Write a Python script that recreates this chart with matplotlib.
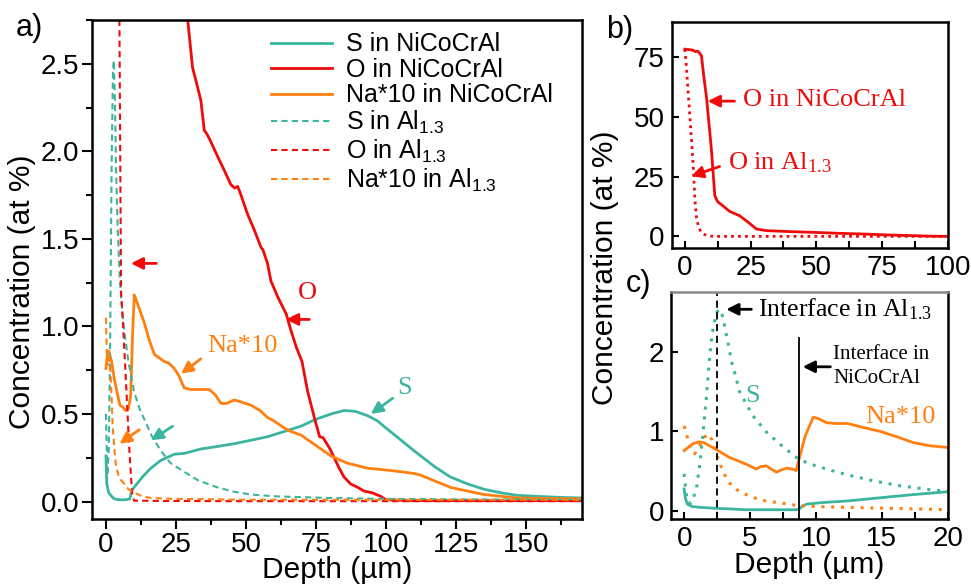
import matplotlib
matplotlib.use("Agg")
import matplotlib.pyplot as plt
from matplotlib.ticker import MultipleLocator, FormatStrFormatter

plt.rcParams['font.family'] = ['Liberation Sans', 'DejaVu Sans']
plt.rcParams['mathtext.default'] = 'regular'

TEAL = '#3BB59F'
RED = '#F00A0A'
ORANGE = '#FF8010'
SERIF = ['Liberation Serif', 'DejaVu Serif']

# ---------------- panel a data ----------------
s_ni_a_x = [0, 0.3, 1, 2, 3, 5, 7, 8.5, 9.2, 10, 13, 16, 19.6, 24.4, 28, 33.9, 40, 45.8, 51.8, 57.7,
            63.7, 69.6, 75, 80.4, 85, 89, 93.5, 97, 100, 105.4, 110, 117.3, 123, 129.2, 135, 141,
            147, 153, 160, 170]
s_ni_a_y = [0.26, 0.10, 0.05, 0.03, 0.015, 0.01, 0.01, 0.015, 0.06, 0.08, 0.14, 0.19, 0.235, 0.27,
            0.275, 0.30, 0.315, 0.33, 0.35, 0.37, 0.40, 0.43, 0.47, 0.50, 0.52, 0.515, 0.49, 0.46,
            0.42, 0.35, 0.29, 0.20, 0.14, 0.10, 0.07, 0.05, 0.035, 0.03, 0.025, 0.02]

o_ni_a_x = [25, 29.2, 30.9, 32.5, 33.9, 35.1, 36, 37, 39.9, 42, 44.6, 46, 47, 48, 50.6, 53, 55.4,
            56, 57.7, 58.9, 61.3, 64.4, 66, 68, 70, 72, 74.4, 76.3, 77.5, 78.5, 80, 81.5, 83, 85,
            87.4, 90, 92.1, 95, 98.1, 100, 110, 130, 150, 170]
o_ni_a_y = [3.5, 2.75, 2.48, 2.38, 2.29, 2.12, 2.10, 2.07, 1.97, 1.90, 1.81, 1.79, 1.80, 1.76,
            1.64, 1.55, 1.45, 1.44, 1.36, 1.26, 1.17, 1.07, 0.98, 0.88, 0.80, 0.63, 0.48, 0.37,
            0.365, 0.34, 0.30, 0.25, 0.20, 0.14, 0.10, 0.08, 0.06, 0.05, 0.03, 0.01, 0.005, 0.005,
            0.005, 0.005]

na_ni_a_x = [0, 0.5, 1, 2, 3, 4, 5, 6, 7, 8, 8.8, 9.5, 10.1, 11.5, 13.7, 15.5, 17.3, 20.8, 22.5,
             24.4, 26, 27.9, 30, 33.9, 36.9, 39, 41.1, 43, 45.8, 48, 51.8, 55, 57.7, 60, 63.7, 66,
             69.6, 75, 80.4, 86, 93.5, 100, 105.4, 110, 112.5, 117, 123.2, 129, 135, 141, 147,
             155, 170]
na_ni_a_y = [0.76, 0.84, 0.86, 0.80, 0.70, 0.62, 0.55, 0.54, 0.52, 0.53, 0.60, 0.95, 1.18, 1.12,
             1.02, 0.92, 0.84, 0.80, 0.79, 0.76, 0.72, 0.65, 0.64, 0.64, 0.64, 0.61, 0.56, 0.56,
             0.58, 0.57, 0.55, 0.52, 0.48, 0.46, 0.42, 0.40, 0.38, 0.32, 0.26, 0.22, 0.19, 0.18,
             0.17, 0.16, 0.15, 0.12, 0.08, 0.06, 0.04, 0.03, 0.02, 0.018, 0.015]

s_al_a_x = [0, 0.5, 1, 1.5, 2, 2.5, 2.8, 3.2, 3.6, 4.2, 5, 6, 7, 8, 9, 10, 12, 14.8, 16.5, 19.6,
            23, 27.9, 33, 39.9, 46, 51.8, 60, 70, 80, 100, 130, 170]
s_al_a_y = [0.5, 0.15, 0.3, 0.9, 1.9, 2.45, 2.52, 2.3, 1.9, 1.55, 1.25, 1.05, 0.92, 0.8, 0.72,
            0.63, 0.53, 0.43, 0.37, 0.29, 0.22, 0.17, 0.12, 0.08, 0.055, 0.04, 0.03, 0.025, 0.02,
            0.015, 0.012, 0.01]

o_al_a_x = [3.8, 4.8, 5.4, 5.9, 7.1, 8.3, 9.3, 10, 20, 50, 100, 170]
o_al_a_y = [15, 2.75, 1.19, 1.07, 0.70, 0.31, 0.05, 0.005, 0.003, 0.002, 0.002, 0.002]

na_al_a_x = [0, 0.3, 0.6, 1, 1.5, 2, 2.4, 3, 3.6, 4.5, 5.5, 6.6, 8, 10.1, 13, 16, 25, 50, 100, 170]
na_al_a_y = [1.05, 0.85, 0.78, 0.85, 0.78, 0.60, 0.43, 0.30, 0.20, 0.15, 0.12, 0.10, 0.07, 0.05,
             0.03, 0.02, 0.015, 0.01, 0.01, 0.01]

# ---------------- panel b data ----------------
o_ni_b_x = [0, 1.5, 3, 4, 5, 6.3, 7.2, 8.2, 9.2, 10.1, 11.4, 12.5, 14.6, 17, 20.9, 24, 27.2, 31,
            40, 48.8, 58, 67.8, 77, 86.8, 93, 100]
o_ni_b_y = [78.5, 78.3, 78.1, 77.5, 77.6, 75.8, 67, 58.5, 47, 36.3, 17, 14.5, 12.7, 10.5, 8.6, 6,
            3.1, 2.4, 2.0, 1.7, 1.3, 1.0, 0.6, 0.3, 0.1, 0.0]
o_al_b_x = [0, 0.6, 1.2, 1.9, 2.6, 3.2, 3.8, 4.4, 5.1, 6, 7, 8.5, 10.8, 30, 60, 100]
o_al_b_y = [78.5, 70.9, 61, 50.1, 39, 29.4, 15.5, 8, 4.4, 2, 1, 0.3, 0.0, 0.0, 0.0, 0.0]

# ---------------- panel c data ----------------
s_ni_c_x = [0, 0.1, 0.25, 0.6, 1.2, 2.2, 3.5, 4.7, 6, 7.5, 8.5, 8.75, 9.0, 9.3, 10.5, 12.4, 14.9,
            17.4, 20]
s_ni_c_y = [0.28, 0.16, 0.09, 0.06, 0.05, 0.04, 0.03, 0.02, 0.02, 0.02, 0.02, 0.03, 0.07, 0.09,
            0.11, 0.13, 0.17, 0.21, 0.245]
na_ni_c_x = [0, 0.3, 0.7, 1.15, 1.5, 2.16, 3.44, 4.71, 5.47, 5.8, 6.24, 6.6, 7.0, 7.4, 7.76, 8.2,
             8.5, 8.7, 9.2, 9.8, 10.2, 10.8, 11.5, 12.4, 13.6, 14.9, 16.2, 17.4, 18.7, 20]
na_ni_c_y = [0.76, 0.80, 0.85, 0.87, 0.86, 0.80, 0.675, 0.59, 0.53, 0.56, 0.57, 0.53, 0.49, 0.52,
             0.54, 0.53, 0.51, 0.64, 0.95, 1.18, 1.16, 1.11, 1.10, 1.10, 1.05, 1.00, 0.93, 0.86,
             0.82, 0.80]
s_al_c_x = [0, 0.1, 0.25, 0.5, 0.9, 1.2, 1.4, 1.7, 1.9, 2.1, 2.3, 2.5, 2.7, 2.9, 3.1, 3.4, 3.6,
            3.9, 4.2, 5.2, 6.2, 7.2, 8.7, 9.8, 10.8, 12.3, 14.4, 16.4, 18.7, 20]
s_al_c_y = [0.47, 0.30, 0.12, 0.10, 0.25, 0.60, 0.92, 1.45, 1.87, 2.20, 2.37, 2.50, 2.53, 2.45,
            2.30, 2.05, 1.87, 1.70, 1.50, 1.20, 1.00, 0.85, 0.65, 0.58, 0.53, 0.46, 0.38, 0.32,
            0.27, 0.25]
na_al_c_x = [0, 0.2, 0.5, 0.8, 1.1, 1.5, 1.8, 2.1, 2.4, 2.7, 3.1, 3.4, 4.0, 4.7, 5.5, 6.2, 7.5,
             8.7, 10, 12.4, 15, 17.5, 20]
na_al_c_y = [1.07, 0.95, 0.80, 0.72, 0.80, 0.92, 0.97, 0.90, 0.75, 0.60, 0.45, 0.36, 0.27, 0.21,
             0.16, 0.13, 0.10, 0.07, 0.06, 0.05, 0.04, 0.03, 0.02]
interface_al = 2.5
interface_ni = 8.75

TICK_FS = 20
LABEL_FS = 21.5
ANN_FS = 19

fig = plt.figure(figsize=(9.71, 5.87), dpi=100)
ax_a = fig.add_axes([0.0947, 0.1158, 0.5047, 0.8501])
ax_b = fig.add_axes([0.6918, 0.577, 0.2842, 0.386])
ax_c = fig.add_axes([0.6910, 0.1153, 0.2850, 0.3877])

LW = 2.0
# ---- panel a ----
ax_a.plot(s_ni_a_x, s_ni_a_y, color=TEAL, lw=LW, label='S in NiCoCrAl')
ax_a.plot(o_ni_a_x, o_ni_a_y, color=RED, lw=LW, label='O in NiCoCrAl')
ax_a.plot(na_ni_a_x, na_ni_a_y, color=ORANGE, lw=LW, label='Na*10 in NiCoCrAl')
ax_a.plot(s_al_a_x, s_al_a_y, color=TEAL, lw=1.5, ls=(0, (3, 2)), label='S in Al$_{1.3}$')
ax_a.plot(o_al_a_x, o_al_a_y, color=RED, lw=1.5, ls=(0, (3, 2)), label='O in Al$_{1.3}$')
ax_a.plot(na_al_a_x, na_al_a_y, color=ORANGE, lw=1.5, ls=(0, (3, 2)), label='Na*10 in Al$_{1.3}$')
ax_a.set_xlim(-5, 170)
ax_a.set_ylim(-0.1, 2.75)
ax_a.xaxis.set_major_locator(MultipleLocator(25))
ax_a.xaxis.set_minor_locator(MultipleLocator(12.5))
ax_a.yaxis.set_major_locator(MultipleLocator(0.5))
ax_a.yaxis.set_minor_locator(MultipleLocator(0.25))
ax_a.yaxis.set_major_formatter(FormatStrFormatter('%.1f'))
ax_a.tick_params(which='both', direction='out', width=1.5, labelsize=TICK_FS)
ax_a.tick_params(which='major', length=7, pad=2)
ax_a.tick_params(which='minor', length=4)
ax_a.set_xlabel('Depth (µm)', fontsize=LABEL_FS, labelpad=-1)
ax_a.set_ylabel('Concentration (at %)', fontsize=LABEL_FS)
ax_a.yaxis.set_label_coords(-0.115, 0.455)
leg = ax_a.legend(loc='upper left', bbox_to_anchor=(0.365, 0.975), frameon=False, fontsize=18,
                  handlelength=2.45, handletextpad=0.55, labelspacing=0.06, borderpad=0,
                  borderaxespad=0)

arrow_kw = dict(arrowstyle='-|>,head_length=0.7,head_width=0.35', lw=2, shrinkA=0, shrinkB=0)
ax_a.annotate('', xy=(8.9, 1.36), xytext=(18, 1.36), arrowprops=dict(color=RED, **arrow_kw))
ax_a.annotate('', xy=(64.3, 1.04), xytext=(72.6, 1.04), arrowprops=dict(color=RED, **arrow_kw))
ax_a.text(72, 1.19, 'O', color=RED, family=SERIF, fontsize=ANN_FS, ha='center', va='center')
ax_a.annotate('', xy=(26.8, 0.73), xytext=(33.9, 0.815), arrowprops=dict(color=ORANGE, **arrow_kw))
ax_a.text(48.8, 0.89, 'Na*10', color=ORANGE, family=SERIF, fontsize=ANN_FS, ha='center',
          va='center')
ax_a.annotate('', xy=(4.8, 0.33), xytext=(11.9, 0.41), arrowprops=dict(color=ORANGE, **arrow_kw))
ax_a.annotate('', xy=(16.1, 0.35), xytext=(23.8, 0.43), arrowprops=dict(color=TEAL, **arrow_kw))
ax_a.annotate('', xy=(94.6, 0.50), xytext=(102.4, 0.59), arrowprops=dict(color=TEAL, **arrow_kw))
ax_a.text(106.5, 0.65, 'S', color=TEAL, family=SERIF, fontsize=ANN_FS, ha='center', va='center')

# ---- panel b ----
ax_b.plot(o_ni_b_x, o_ni_b_y, color=RED, lw=LW)
ax_b.plot(o_al_b_x, o_al_b_y, color=RED, lw=2.0, ls=(0, (1, 1.5)))
ax_b.set_xlim(-5, 100)
ax_b.set_ylim(-5, 90)
ax_b.xaxis.set_major_locator(MultipleLocator(25))
ax_b.xaxis.set_minor_locator(MultipleLocator(12.5))
ax_b.yaxis.set_major_locator(MultipleLocator(25))
ax_b.tick_params(which='both', direction='in', width=1.5, labelsize=TICK_FS, length=5, pad=5)
ax_b.annotate('', xy=(8.7, 56.7), xytext=(18.9, 56.7), arrowprops=dict(color=RED, **arrow_kw))
ax_b.text(22, 57, 'O in NiCoCrAl', color=RED, family=SERIF, fontsize=ANN_FS, ha='left',
          va='center')
ax_b.annotate('', xy=(2.4, 25.2), xytext=(13.2, 29.3), arrowprops=dict(color=RED, **arrow_kw))
ax_b.text(16.4, 30.7, 'O in Al$_{1.3}$', color=RED, family=SERIF, fontsize=ANN_FS, ha='left',
          va='center')

# ---- panel c ----
ax_c.plot(s_ni_c_x, s_ni_c_y, color=TEAL, lw=LW)
ax_c.plot(na_ni_c_x, na_ni_c_y, color=ORANGE, lw=LW)
ax_c.plot(s_al_c_x, s_al_c_y, color=TEAL, lw=2.2, ls=(0, (1, 2.2)))
ax_c.plot(na_al_c_x, na_al_c_y, color=ORANGE, lw=2.2, ls=(0, (1, 2.2)))
ax_c.axvline(interface_al, color='black', lw=1.3, ls=(0, (4, 2.5)))
ax_c.plot([interface_ni, interface_ni], [-0.1, 2.17], color='black', lw=1.3)
ax_c.set_xlim(-1, 20)
ax_c.set_ylim(-0.1, 2.75)
ax_c.xaxis.set_major_locator(MultipleLocator(5))
ax_c.xaxis.set_minor_locator(MultipleLocator(2.5))
ax_c.yaxis.set_major_locator(MultipleLocator(1))
ax_c.tick_params(which='both', direction='in', width=1.5, labelsize=TICK_FS, length=5, pad=5)
ax_c.set_xlabel('Depth (µm)', fontsize=LABEL_FS, labelpad=-1)
ax_c.annotate('', xy=(3.2, 2.53), xytext=(5.1, 2.53), arrowprops=dict(color='black', **arrow_kw))
ax_c.text(5.6, 2.53, 'Interface in Al$_{1.3}$', color='black', family=SERIF, fontsize=18.5,
          ha='left', va='center')
ax_c.annotate('', xy=(9.0, 1.81), xytext=(11.1, 1.81), arrowprops=dict(color='black', **arrow_kw))
ax_c.text(11.3, 1.81, 'Interface in\nNiCoCrAl', color='black', family=SERIF, fontsize=15,
          ha='left', va='center', linespacing=1.35)
ax_c.text(5.2, 1.45, 'S', color=TEAL, family=SERIF, fontsize=ANN_FS, ha='center', va='center')
ax_c.text(16.4, 1.18, 'Na*10', color=ORANGE, family=SERIF, fontsize=ANN_FS, ha='center',
          va='center')
ax_c.spines['top'].set_color('#8a8a8a')

for ax in (ax_a, ax_b, ax_c):
    for s in ax.spines.values():
        s.set_linewidth(1.8)

fig.text(605 / 971, 1 - 268 / 587, 'Concentration (at %)', rotation=90, fontsize=LABEL_FS,
         ha='center', va='center')
fig.text(29 / 971, 1 - 28 / 587, 'a)', fontsize=22, ha='center', va='center')
fig.text(620 / 971, 1 - 30 / 587, 'b)', fontsize=22, ha='center', va='center')
fig.text(638 / 971, 1 - 284 / 587, 'c)', fontsize=22, ha='center', va='center')

fig.savefig('out.png', dpi=100)
